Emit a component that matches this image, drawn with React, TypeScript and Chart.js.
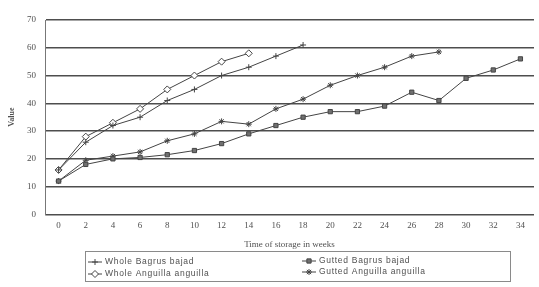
import React, { useEffect, useRef } from "react";
import { Chart, registerables } from "chart.js";
import * as helpers from "chart.js/helpers";

Chart.register(...registerables);

const weeks = ["0", "2", "4", "6", "8", "10", "12", "14", "16", "18", "20", "22", "24", "26", "28", "30", "32", "34"];
const wholeBagrus = [16, 26, 32, 35, 41, 45, 50, 53, 57, 61];
const wholeAnguilla = [16, 28, 33, 38, 45, 50, 55, 58];
const guttedBagrus = [12, 18, 20, 20.5, 21.5, 23, 25.5, 29, 32, 35, 37, 37, 39, 44, 41, 49, 52, 56];
const guttedAnguilla = [12, 19.5, 21, 22.5, 26.5, 29, 33.5, 32.5, 38, 41.5, 46.5, 50, 53, 57, 58.5];
const seriesNames = ["Whole Bagrus bajad", "Whole Anguilla anguilla", "Gutted Bagrus bajad", "Gutted Anguilla anguilla"];

const LINE = "#444444";
const GRID = "#4e4e4e";
const TEXT = "#505050";

const legendPlugin = {
  id: "boxLegend",
  afterDraw(chart: any) {
    const ctx = chart.ctx;
    ctx.save();
    ctx.strokeStyle = "#8a8a8a";
    ctx.lineWidth = 1;
    ctx.strokeRect(85.5, 251.5, 425, 30);
    const pos = [
      { x: 88, y: 262 },
      { x: 88, y: 274 },
      { x: 302, y: 261 },
      { x: 302, y: 272 },
    ];
    chart.data.datasets.forEach((ds: any, i: number) => {
      const p = pos[i];
      ctx.strokeStyle = LINE;
      ctx.lineWidth = 1;
      ctx.beginPath();
      ctx.moveTo(p.x, p.y);
      ctx.lineTo(p.x + 14, p.y);
      ctx.stroke();
      ctx.fillStyle = ds.pointBackgroundColor;
      ctx.strokeStyle = ds.pointBorderColor;
      helpers.drawPoint(ctx, { pointStyle: ds.pointStyle, radius: ds.pointRadius, borderWidth: 1, rotation: 0 }, p.x + 7, p.y);
      ctx.fillStyle = "#505050";
      ctx.font = "8.5px 'Liberation Sans', Arial, sans-serif";
      (ctx as any).letterSpacing = "0.7px";
      ctx.textBaseline = "middle";
      ctx.textAlign = "left";
      ctx.fillText(ds.label, p.x + 17, p.y);
    });
    (ctx as any).letterSpacing = "0px";
    ctx.restore();
  },
};

export default function App() {
  const ref = useRef<HTMLCanvasElement | null>(null);
  useEffect(() => {
    if (!ref.current) return;
    const mk = (label: string, data: number[], style: string, bg: string, r: number) => ({
      label,
      data,
      borderColor: LINE,
      borderWidth: 1,
      pointStyle: style,
      pointRadius: r,
      pointBackgroundColor: bg,
      pointBorderColor: LINE,
      pointBorderWidth: 1,
      tension: 0,
      fill: false,
    });
    const chart = new Chart(ref.current, {
      type: "line",
      data: {
        labels: weeks,
        datasets: [
          mk(seriesNames[0], wholeBagrus, "cross", LINE, 3),
          mk(seriesNames[1], wholeAnguilla, "rectRot", "#ffffff", 3.5),
          mk(seriesNames[2], guttedBagrus, "rect", "#707070", 3),
          mk(seriesNames[3], guttedAnguilla, "star", LINE, 3),
        ],
      },
      options: {
        animation: false,
        responsive: true,
        maintainAspectRatio: false,
        layout: { padding: { top: 20, right: 0, bottom: 37, left: 0 } },
        plugins: { legend: { display: false }, tooltip: { enabled: false } },
        scales: {
          x: {
            type: "category",
            offset: true,
            grid: { display: false, drawTicks: false },
            border: { display: false },
            ticks: { color: TEXT, padding: 6, maxRotation: 0, autoSkip: false, font: { family: "'Liberation Serif', serif", size: 9 } },
            title: { display: true, text: "Time of storage in weeks", color: TEXT, padding: { top: 2, bottom: 0 }, font: { family: "'Liberation Serif', serif", size: 9 } },
          },
          y: {
            min: 0,
            max: 70,
            ticks: { stepSize: 10, color: TEXT, padding: 9, font: { family: "'Liberation Serif', serif", size: 9 } },
            grid: { color: GRID, lineWidth: 1.5, drawTicks: false },
            border: { display: true, color: "#777777", width: 1 },
            title: { display: true, text: "Value", color: TEXT, padding: { top: 7, bottom: 0 }, font: { family: "'Liberation Serif', serif", size: 8, weight: "bold" } },
            afterFit: (s: any) => { s.width = 45; },
          },
        },
      },
      plugins: [legendPlugin],
    });
    return () => chart.destroy();
  }, []);
  return (
    <div style={{ position: "absolute", left: 0, top: 0, width: 539, height: 287, background: "#fff" }}>
      <canvas ref={ref} />
    </div>
  );
}
